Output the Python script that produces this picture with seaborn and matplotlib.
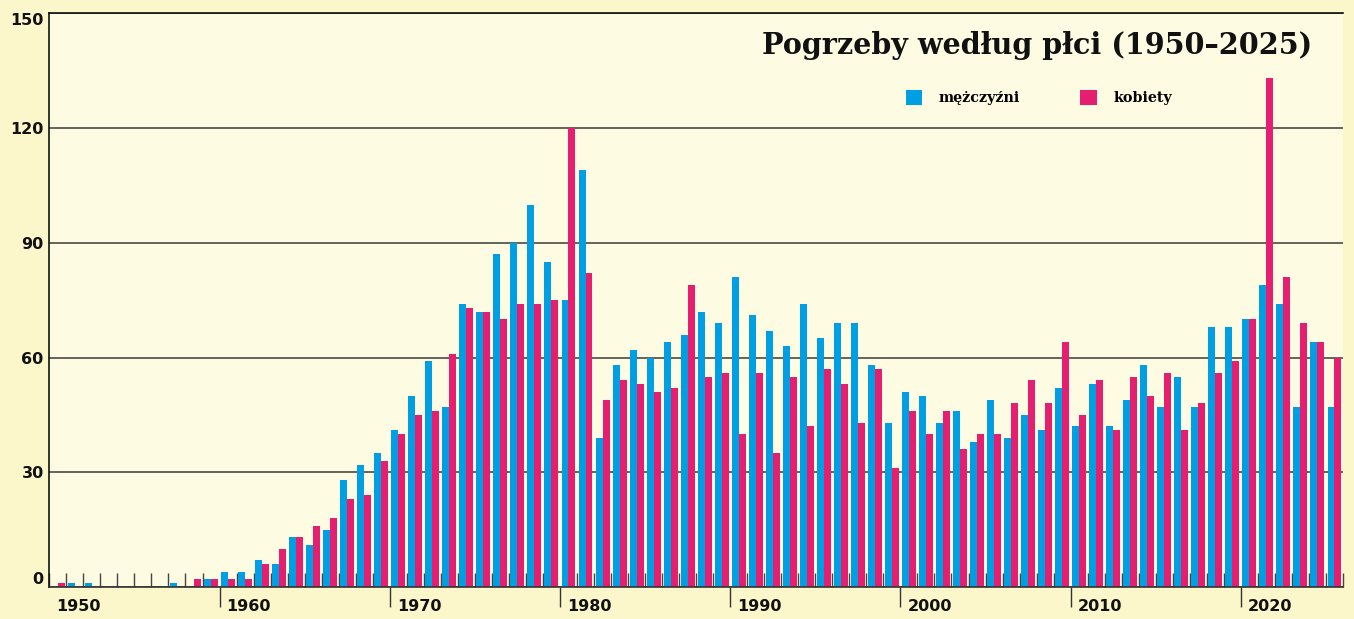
import matplotlib
matplotlib.use('Agg')
import matplotlib.pyplot as plt
import seaborn as sns
import pandas as pd
from matplotlib.patches import Patch

# Pogrzeby według płci, 1950-2025

years = list(range(1950, 2026))

men = [
    0, 1, 1, 0, 0, 0, 0, 1, 0, 2,
    4, 4, 7, 6, 13, 11, 15, 28, 32, 35,
    41, 50, 59, 47, 74, 72, 87, 90, 100, 85,
    75, 109, 39, 58, 62, 60, 64, 66, 72, 69,
    81, 71, 67, 63, 74, 65, 69, 69, 58, 43,
    51, 50, 43, 46, 38, 49, 39, 45, 41, 52,
    42, 53, 42, 49, 58, 47, 55, 47, 68, 68,
    70, 79, 74, 47, 64, 47,
]

women = [
    1, 0, 0, 0, 0, 0, 0, 0, 2, 2,
    2, 2, 6, 10, 13, 16, 18, 23, 24, 33,
    40, 45, 46, 61, 73, 72, 70, 74, 74, 75,
    120, 82, 49, 54, 53, 51, 52, 79, 55, 56,
    40, 56, 35, 55, 42, 57, 53, 43, 57, 31,
    46, 40, 46, 36, 40, 40, 48, 54, 48, 64,
    45, 54, 41, 55, 50, 56, 41, 48, 56, 59,
    70, 133, 81, 69, 64, 60,
]

series_names = ['mężczyźni', 'kobiety']
colors = ['#009FE3', '#E61E70']

y_ticks = [0, 30, 60, 90, 120, 150]
decade_labels = ['1950', '1960', '1970', '1980', '1990', '2000', '2010', '2020']

df = pd.DataFrame({
    'Rok': years * 2,
    'Liczba': men + women,
    'Płeć': [series_names[0]] * len(years) + [series_names[1]] * len(years),
})

fig = plt.figure(figsize=(13.54, 6.19), dpi=100)
fig.patch.set_facecolor('#FCF7CB')

ax = fig.add_axes([49.3 / 1354, 32 / 619, (1343 - 49.3) / 1354, (587 - 13.3) / 619])
ax.set_facecolor('#FEFBE3')

sns.barplot(
    data=df,
    x='Rok',
    y='Liczba',
    hue='Płeć',
    hue_order=series_names,
    palette=colors,
    width=0.82,
    gap=0,
    saturation=1,
    edgecolor='none',
    linewidth=0,
    ax=ax,
)

n = len(years)
ax.set_xlim(-0.5, n - 0.5)
ax.set_ylim(0, 150)

# grid
ax.set_axisbelow(True)
ax.set_yticks(y_ticks)
ax.yaxis.grid(True, color='#4a4a44', linewidth=1.2)
ax.xaxis.grid(False)

ax.tick_params(axis='y', length=0, pad=4)
ax.set_yticklabels([str(v) for v in y_ticks], fontsize=11.5, fontweight='bold', color='#111111')
ylabels = ax.get_yticklabels()
ylabels[0].set_va('bottom')
ylabels[-1].set_va('top')

# year ticks: minor inside every year, major below every decade
bounds = [i - 0.5 for i in range(n + 1)]
decade_pos = [i * 10 - 0.5 for i in range(1, 8)]
ax.set_xticks(decade_pos)
ax.set_xticklabels([''] * len(decade_pos))
ax.set_xticks(bounds, minor=True)
ax.tick_params(axis='x', which='major', direction='out', length=14.4, width=1, color='#333333')
ax.tick_params(axis='x', which='minor', direction='in', length=10, width=1, color='#444444')

for i, lab in enumerate(decade_labels):
    ax.annotate(
        lab,
        xy=(i * 10 - 0.5, 0),
        xycoords=('data', 'axes fraction'),
        xytext=(5, -8.5),
        textcoords='offset points',
        ha='left',
        va='top',
        fontsize=11.5,
        fontweight='bold',
        color='#111111',
    )

ax.set_xlabel('')
ax.set_ylabel('')

for side in ['left', 'top']:
    ax.spines[side].set_color('#111111')
    ax.spines[side].set_linewidth(1.2)
ax.spines['bottom'].set_color('#333333')
ax.spines['bottom'].set_linewidth(1.2)
ax.spines['right'].set_visible(False)

# title + legend
fig.text(
    1312 / 1354, 1 - 46 / 619,
    'Pogrzeby według płci (1950–2025)',
    ha='right', va='center',
    fontsize=20.6, fontweight='bold', family='DejaVu Serif',
    color='#111111',
)

ax.get_legend().remove()
handles = [Patch(facecolor=c, edgecolor='none') for c in colors]
fig.legend(
    handles, series_names,
    loc='center left',
    bbox_to_anchor=(906 / 1354, 1 - 97.5 / 619),
    ncol=2,
    frameon=False,
    borderpad=0,
    borderaxespad=0,
    handlelength=1.15,
    handleheight=1.2,
    handletextpad=1.15,
    columnspacing=4.2,
    prop={'family': 'DejaVu Serif', 'weight': 'bold', 'size': 10.3},
)

fig.savefig('out.png', dpi=100, facecolor=fig.get_facecolor())
